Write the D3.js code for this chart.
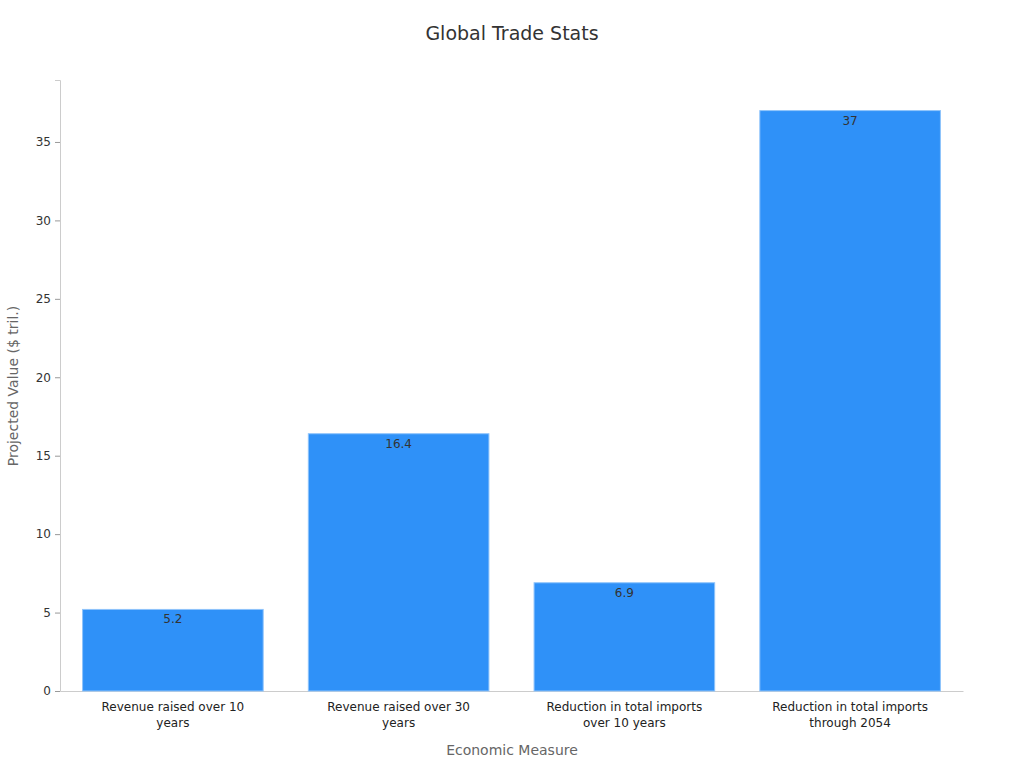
<!DOCTYPE html>
<html><head><meta charset="utf-8">
<script src="https://cdn.jsdelivr.net/npm/d3@7"></script>
<style>body{margin:0;background:#fff;font-family:"DejaVu Sans",sans-serif}</style>
</head><body><div id="chart"></div>
<script>
const width = 1024, height = 768;
const margin = {top: 80, right: 61, bottom: 77, left: 60};

const categories = [
  ["Revenue raised over 10", "years"],
  ["Revenue raised over 30", "years"],
  ["Reduction in total imports", "over 10 years"],
  ["Reduction in total imports", "through 2054"]
];
const values = [5.2, 16.4, 6.9, 37];
const yTicks = [0, 5, 10, 15, 20, 25, 30, 35];

const svg = d3.select("#chart").append("svg").attr("width", width).attr("height", height);

const x = d3.scaleBand().domain(d3.range(categories.length))
  .range([margin.left, width - margin.right]).paddingInner(0.2).paddingOuter(0.1);
const y = d3.scaleLinear().domain([0, 38.95]).range([height - margin.bottom, margin.top]);

// 軸
const yAxis = svg.append("g").attr("transform", `translate(${margin.left},0)`)
  .call(d3.axisLeft(y).tickValues(yTicks).tickSize(5).tickPadding(4));
const xAxis = svg.append("g").attr("transform", `translate(0,${height - margin.bottom})`)
  .call(d3.axisBottom(x).tickSize(0).tickFormat(""));
svg.selectAll(".domain").attr("stroke", "#ccc");
yAxis.selectAll("line").attr("stroke", "#999");
yAxis.selectAll("text").attr("font-size", 12).attr("fill", "#333").attr("font-family", "DejaVu Sans");

// バー
svg.selectAll(".bar").data(values).join("rect")
  .attr("x", (d, i) => x(i)).attr("width", x.bandwidth())
  .attr("y", d => y(d)).attr("height", d => y(0) - y(d))
  .attr("fill", "#2f91f8").attr("stroke", "#8ec3fb").attr("stroke-width", 1);

svg.selectAll(".val").data(values).join("text")
  .attr("x", (d, i) => x(i) + x.bandwidth() / 2).attr("y", d => y(d) + 14)
  .attr("text-anchor", "middle").attr("font-size", 12).attr("fill", "#333")
  .text(d => d);

// カテゴリラベル
categories.forEach((lines, i) => {
  const t = svg.append("text").attr("text-anchor", "middle").attr("font-size", 12).attr("fill", "#222");
  lines.forEach((l, j) => t.append("tspan").attr("x", x(i) + x.bandwidth() / 2).attr("y", 711 + j * 16).text(l));
});

svg.append("text").attr("x", 512).attr("y", 40).attr("text-anchor", "middle")
  .attr("font-size", 19).attr("fill", "#333").text("Global Trade Stats");
svg.append("text").attr("x", 512).attr("y", 755).attr("text-anchor", "middle")
  .attr("font-size", 14).attr("fill", "#666").text("Economic Measure");
svg.append("text").attr("transform", "translate(18,386) rotate(-90)").attr("text-anchor", "middle")
  .attr("font-size", 14).attr("fill", "#666").text("Projected Value ($ tril.)");
</script></body></html>
